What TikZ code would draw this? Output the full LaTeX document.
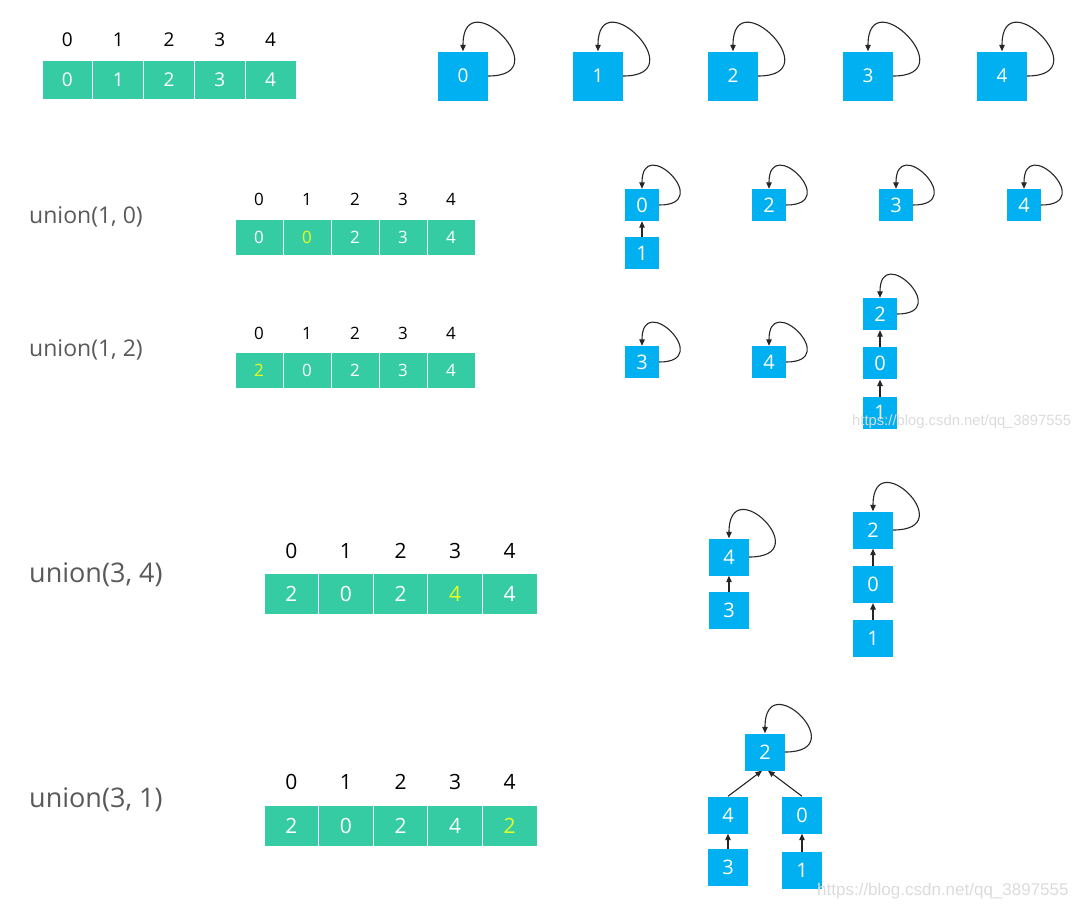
\documentclass[tikz,border=0pt]{standalone}
\usepackage{fontspec}
\setmainfont{Open Sans}
\newfontfamily\wmfont{Liberation Sans}
\usepackage{tikz}
\usetikzlibrary{positioning, arrows.meta}
\definecolor{cellteal}{HTML}{35CCA3}
\definecolor{skyblue}{HTML}{00B0F0}
\definecolor{hlyellow}{HTML}{E8FF1E}
\definecolor{opgray}{HTML}{595959}

\begin{document}
\begin{tikzpicture}[x=1pt, y=-1pt,
    cell/.style={fill=cellteal, draw=white, line width=1pt, inner sep=0pt},
    idx/.style={inner sep=0pt, text=black},
    oplabel/.style={anchor=west, inner sep=0pt, text=opgray},
    elem/.style={fill=skyblue, text=white, inner sep=0pt, font=\fontsize{20}{20}\selectfont},
    bigelem/.style={elem, minimum width=50pt, minimum height=49pt, font=\fontsize{19}{19}\selectfont},
    smallelem/.style={elem, minimum width=34pt, minimum height=32pt},
    midelem/.style={elem, minimum width=40pt, minimum height=37pt},
    link/.style={-{Triangle[length=6.5pt, width=5.5pt]}, line width=1.1pt, black!85},
    watermark/.style={anchor=west, inner sep=0pt, text=gray!28, font=\wmfont\fontsize{17}{17}\selectfont}]
    \useasboundingbox (0,0) rectangle (1074,905);
    % Parent arrays with their indices
    \foreach \r/\x/\w/\yc/\h/\ly/\fs/\vals/\hi in {
        a0/42/50.8/79.5/39/40/19/{0,1,2,3,4}/9,
        a1/235/48/237/36/199/17/{0,0,2,3,4}/1,
        a2/235/48/370/36/333/17/{2,0,2,3,4}/0,
        a3/264/54.6/593.5/41/551/21/{2,0,2,4,4}/3,
        a4/264/54.6/826/41/782/21/{2,0,2,4,2}/4} {
        \foreach \val [count=\i from 0] in \vals {
            \ifnum\i=\hi \def\tc{hlyellow}\else\def\tc{white}\fi
            \node (\r-\i) [cell, minimum width=\w pt, minimum height=\h pt, text=\tc, font=\fontsize{\fs}{\fs}\selectfont] at (\x+\w*\i+\w/2, \yc) {\val};
            \node (\r-idx\i) [idx, font=\fontsize{\fs}{\fs}\selectfont] at (\x+\w*\i+\w/2, \ly) {\i};
        }
    }
    % Operations
    \node (u1) [oplabel, font=\fontsize{23}{23}\selectfont] at (29,217) {union(1, 0)};
    \node (u2) [oplabel, font=\fontsize{23}{23}\selectfont] at (29,350) {union(1, 2)};
    \node (u3) [oplabel, font=\fontsize{27}{27}\selectfont] at (29,575) {union(3, 4)};
    \node (u4) [oplabel, font=\fontsize{27}{27}\selectfont] at (29,800) {union(3, 1)};
    % Initial forest
    \node (t0) [bigelem] at (463,76) {0};
    \node (t1) [bigelem] at (598,76) {1};
    \node (t2) [bigelem] at (733,76) {2};
    \node (t3) [bigelem] at (868,76) {3};
    \node (t4) [bigelem] at (1002,76) {4};
    % After union(1, 0)
    \node (b0) [smallelem] at (642,205) {0};
    \node (b1) [smallelem, below=16pt of b0] {1};
    \node (b2) [smallelem] at (769,205) {2};
    \node (b3) [smallelem] at (896,205) {3};
    \node (b4) [smallelem] at (1024,205) {4};
    \draw [link] (b1) -- (b0);
    % After union(1, 2)
    \node (c3) [smallelem] at (642,362) {3};
    \node (c4) [smallelem] at (769,362) {4};
    \node (c2) [smallelem] at (880,314) {2};
    \node (c0) [smallelem, below=17pt of c2] {0};
    \node (c1) [smallelem, below=17pt of c0] {1};
    \draw [link] (c0) -- (c2);
    \draw [link] (c1) -- (c0);
    % After union(3, 4)
    \node (d4) [midelem] at (729,557) {4};
    \node (d3) [midelem, below=16pt of d4] {3};
    \node (d2) [midelem] at (873,530) {2};
    \node (d0) [midelem, below=17pt of d2] {0};
    \node (d1) [midelem, below=17pt of d0] {1};
    \draw [link] (d3) -- (d4);
    \draw [link] (d0) -- (d2);
    \draw [link] (d1) -- (d0);
    % After union(3, 1)
    \node (e2) [midelem] at (765,752) {2};
    \node (e4) [midelem] at (728,815) {4};
    \node (e0) [midelem] at (802,815) {0};
    \node (e3) [midelem, below=15pt of e4] {3};
    \node (e1) [midelem, below=18pt of e0] {1};
    \draw [link] (e4.north) -- ([xshift=-3pt]e2.south);
    \draw [link] (e0.north) -- ([xshift=3pt]e2.south);
    \draw [link] (e3) -- (e4);
    \draw [link] (e1) -- (e0);
    % Roots point to themselves
    \foreach \n/\d in {t0/72, t1/72, t2/72, t3/72, t4/72, b0/56, b2/56, b3/56, b4/56,
        c3/56, c4/56, c2/56, d4/69, d2/69, e2/69}
        \draw [link] (\n.east) .. controls +(\d,0) and +(0,-\d) .. (\n.north);
    % Watermarks
    \node (wm1) [watermark, font=\wmfont\fontsize{14.8}{14.8}\selectfont] at (852,422) {https://blog.csdn.net/qq\_3897555};
    \node (wm2) [watermark] at (817,891) {https://blog.csdn.net/qq\_3897555};
\end{tikzpicture}
\end{document}
